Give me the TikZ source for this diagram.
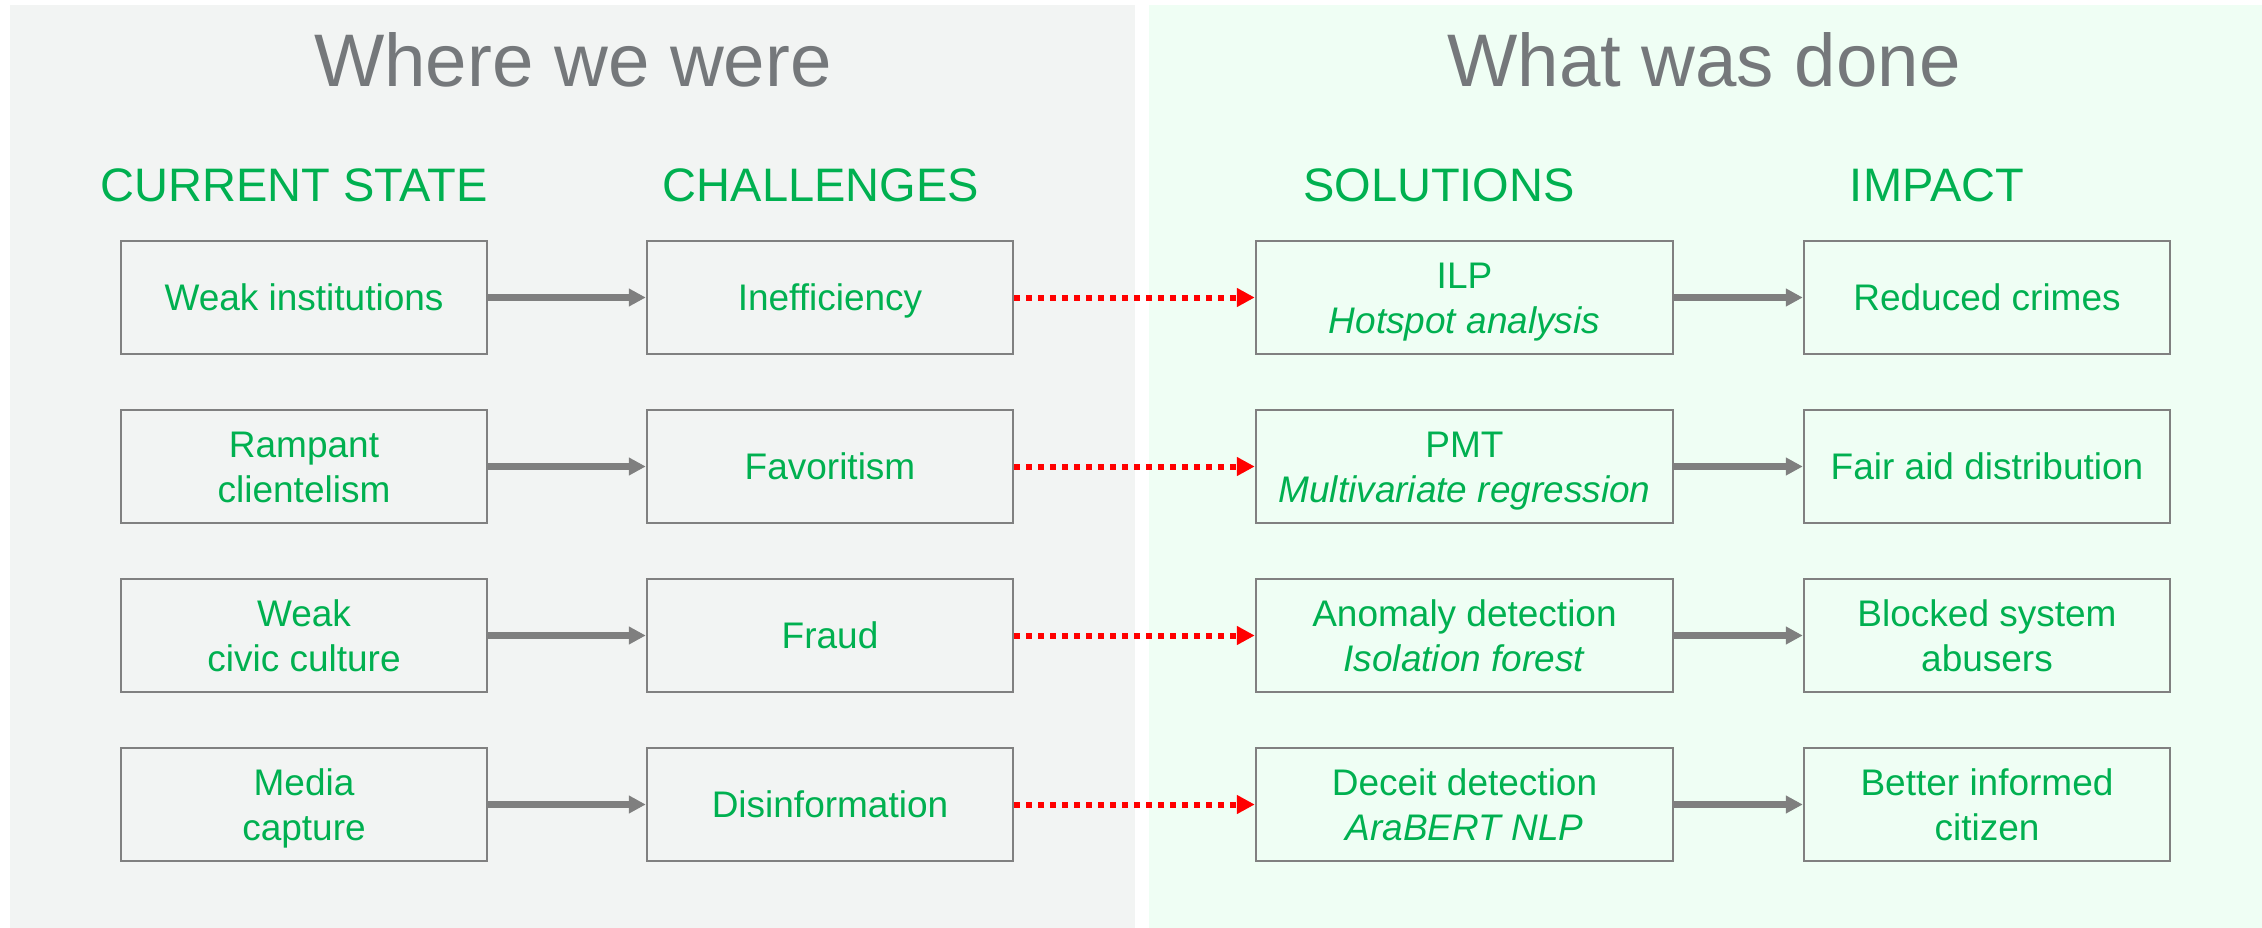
\documentclass[tikz,border=0pt]{standalone}
\usepackage{fontspec}
\setmainfont{Liberation Sans}
\usetikzlibrary{arrows.meta}
\definecolor{txtgreen}{HTML}{00B050}
\definecolor{titlegray}{HTML}{75787B}
\definecolor{panelgray}{HTML}{F2F4F3}
\definecolor{panelgreen}{HTML}{EFFEF4}
\definecolor{boxline}{HTML}{808080}
\definecolor{arrgray}{HTML}{7F7F7F}
\newcommand{\bstr}{\rule[-13.5pt]{0pt}{53.5pt}}
\lineskiplimit=-100pt
\begin{document}
\lineskiplimit=-100pt
\begin{tikzpicture}[x=1pt,y=-1pt,
  box/.style={draw=boxline, line width=2.5pt, minimum width=366pt, minimum height=113pt,
    inner sep=0pt, align=center, text=txtgreen,
    font=\fontsize{37}{45}\selectfont},
  widebox/.style={box, minimum width=417pt},
  title/.style={anchor=base, text=titlegray, inner sep=0pt, font=\fontsize{74.5}{80}\selectfont},
  header/.style={anchor=base, text=txtgreen, inner sep=0pt, font=\fontsize{47}{52}\selectfont},
  grayarr/.style={draw=arrgray, line width=6.5pt, -{Triangle[length=17pt,width=17pt]}},
  redarr/.style={draw=red, line width=6pt, dash pattern=on 6pt off 6pt, -{Triangle[length=18pt,width=18pt]}}]
\useasboundingbox (0,0) rectangle (2262,928);
\fill[white] (0,0) rectangle (2262,928);
\fill[panelgray] (10,5) rectangle (1135,928);
\fill[panelgreen] (1149,5) rectangle (2262,928);

\node[title] (t1) at (573,87) {Where we were};
\node[title] (t2) at (1704,87) {What was done};

\node[header] (h1) at (294,202) {CURRENT STATE};
\node[header] (h2) at (821,202) {CHALLENGES};
\node[header] (h3) at (1439,202) {SOLUTIONS};
\node[header] (h4) at (1937,202) {IMPACT};

% column 1
\node[box] (a1) at (304,297.5) {\bstr Weak institutions};
\node[box] (a2) at (304,466.5) {\bstr Rampant\\\bstr clientelism};
\node[box] (a3) at (304,635.5) {\bstr Weak\\\bstr civic culture};
\node[box] (a4) at (304,804.5) {\bstr Media\\\bstr capture};
% column 2
\node[box] (b1) at (830,297.5) {\bstr Inefficiency};
\node[box] (b2) at (830,466.5) {\bstr Favoritism};
\node[box] (b3) at (830,635.5) {\bstr Fraud};
\node[box] (b4) at (830,804.5) {\bstr Disinformation};
% column 3
\node[widebox] (c1) at (1464.5,297.5) {\bstr ILP\\\bstr\textit{Hotspot analysis}};
\node[widebox] (c2) at (1464.5,466.5) {\bstr PMT\\\bstr\textit{Multivariate regression}};
\node[widebox] (c3) at (1464.5,635.5) {\bstr Anomaly detection\\\bstr\textit{Isolation forest}};
\node[widebox] (c4) at (1464.5,804.5) {\bstr Deceit detection\\\bstr\textit{AraBERT NLP}};
% column 4
\node[box] (d1) at (1987,297.5) {\bstr Reduced crimes};
\node[box] (d2) at (1987,466.5) {\bstr Fair aid distribution};
\node[box] (d3) at (1987,635.5) {\bstr Blocked system\\\bstr abusers};
\node[box] (d4) at (1987,804.5) {\bstr Better informed\\\bstr citizen};

\foreach \i in {1,2,3,4}{
  \draw[grayarr] (a\i.east) -- (b\i.west);
  \draw[redarr] (b\i.east) -- (c\i.west);
  \draw[grayarr] (c\i.east) -- (d\i.west);
}
\end{tikzpicture}
\end{document}
